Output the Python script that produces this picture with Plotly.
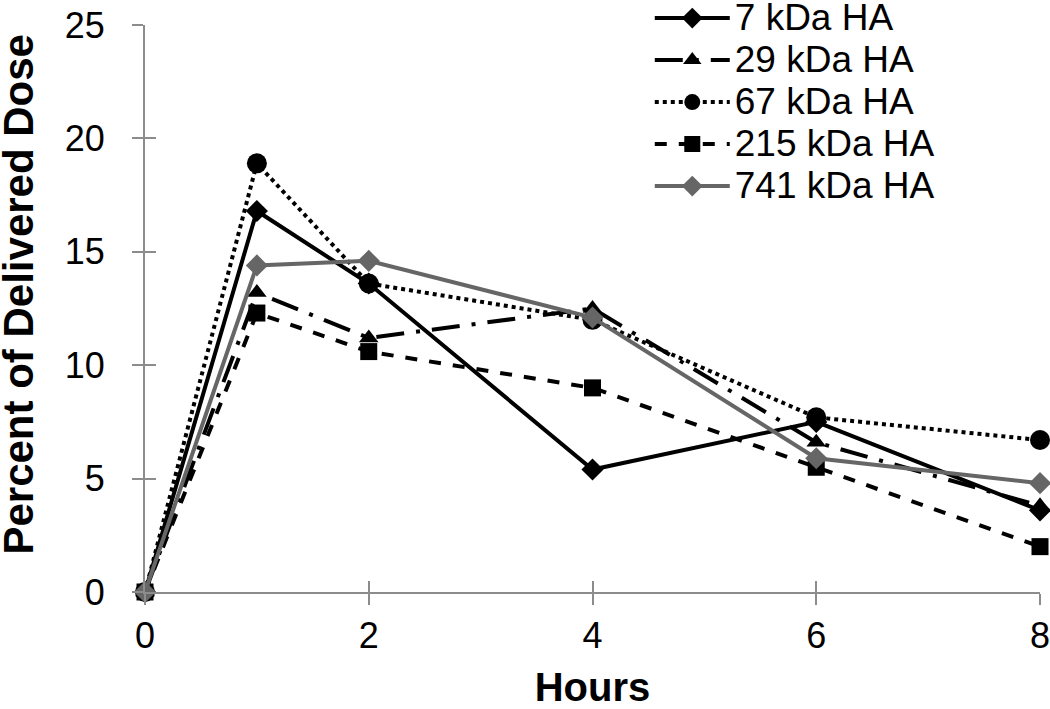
import plotly.graph_objects as go

hours = [0, 1, 2, 4, 6, 8]
ha_7 = [0, 16.8, 13.6, 5.4, 7.5, 3.6]
ha_29 = [0, 13.2, 11.2, 12.5, 6.6, 3.8]
ha_67 = [0, 18.9, 13.6, 12.0, 7.7, 6.7]
ha_215 = [0, 12.3, 10.6, 9.0, 5.5, 2.0]
ha_741 = [0, 14.4, 14.6, 12.1, 5.9, 4.8]
series_names = ["7 kDa HA", "29 kDa HA", "67 kDa HA", "215 kDa HA", "741 kDa HA"]
x_ticks = [0, 2, 4, 6, 8]
y_ticks = [0, 5, 10, 15, 20, 25]
x_title = "Hours"
y_title = "Percent of Delivered Dose"

styles = [
    dict(color="black", dash="solid", symbol="diamond", size=17),
    dict(color="black", dash="28px,12px,4px,12px", symbol="triangle-up", size=17),
    dict(color="black", dash="dot", symbol="circle", size=20),
    dict(color="black", dash="dash", symbol="square", size=17),
    dict(color="#666666", dash="solid", symbol="diamond", size=17),
]
data = [ha_7, ha_29, ha_67, ha_215, ha_741]

fig = go.Figure()
for name, vals, st in zip(series_names, data, styles):
    fig.add_trace(go.Scatter(
        x=hours, y=vals, name='<span style="font-size:37px">' + name + '</span>',
        mode="lines+markers",
        line=dict(color=st["color"], width=4, dash=st["dash"]),
        marker=dict(color=st["color"], symbol=st["symbol"], size=st["size"]),
        cliponaxis=False,
    ))

# overlay axes for crossing tick marks
fig.add_trace(go.Scatter(x=[None], y=[None], xaxis="x2", yaxis="y2",
                         showlegend=False, hoverinfo="skip"))

axis_grey = "#8c8c8c"
font_family = "Liberation Sans, Arial, sans-serif"

fig.update_layout(
    width=1050, height=709,
    paper_bgcolor="white", plot_bgcolor="white",
    margin=dict(l=145, r=10, t=25, b=117, autoexpand=False),
    font=dict(family=font_family, color="black", size=36),
    xaxis=dict(range=[0, 8], tickvals=x_ticks, ticktext=[str(v) for v in x_ticks],
               showgrid=False, zeroline=False, showline=True, linecolor=axis_grey,
               linewidth=2, ticks="outside", ticklen=11, tickwidth=2, tickcolor=axis_grey,
               tickfont=dict(size=36, color="black"), ticklabelstandoff=0,
               ticklabeloverflow="allow",
               title=dict(text="<b>" + x_title + "</b>", font=dict(size=40), standoff=30)),
    yaxis=dict(range=[0, 25], tickvals=y_ticks, ticktext=[str(v) for v in y_ticks],
               showgrid=False, zeroline=False, showline=True, linecolor=axis_grey,
               linewidth=2, ticks="outside", ticklen=11, tickwidth=2, tickcolor=axis_grey,
               tickfont=dict(size=36, color="black"), ticklabelstandoff=20,
               ticklabeloverflow="allow"),
    xaxis2=dict(overlaying="x", anchor="y2", range=[0, 8], tickvals=x_ticks,
                showticklabels=False, showgrid=False, zeroline=False, showline=False,
                ticks="inside", ticklen=11, tickwidth=2, tickcolor=axis_grey),
    yaxis2=dict(overlaying="y", anchor="x2", range=[0, 25], tickvals=y_ticks,
                showticklabels=False, showgrid=False, zeroline=False, showline=False,
                ticks="inside", ticklen=11, tickwidth=2, tickcolor=axis_grey),
    legend=dict(x=0.564, y=1.058, xanchor="left", yanchor="top",
                bgcolor="rgba(0,0,0,0)", font=dict(size=30),
                tracegroupgap=0, itemwidth=75),
    showlegend=True,
    annotations=[dict(text="<b>" + y_title + "</b>", textangle=-90,
                      xref="paper", yref="paper", x=-0.141, y=0.526,
                      xanchor="center", yanchor="middle", showarrow=False,
                      font=dict(size=42, color="black"))],
)

fig.write_html("out.html", config={"displayModeBar": False},
               post_script="document.body.style.margin='0px';")
